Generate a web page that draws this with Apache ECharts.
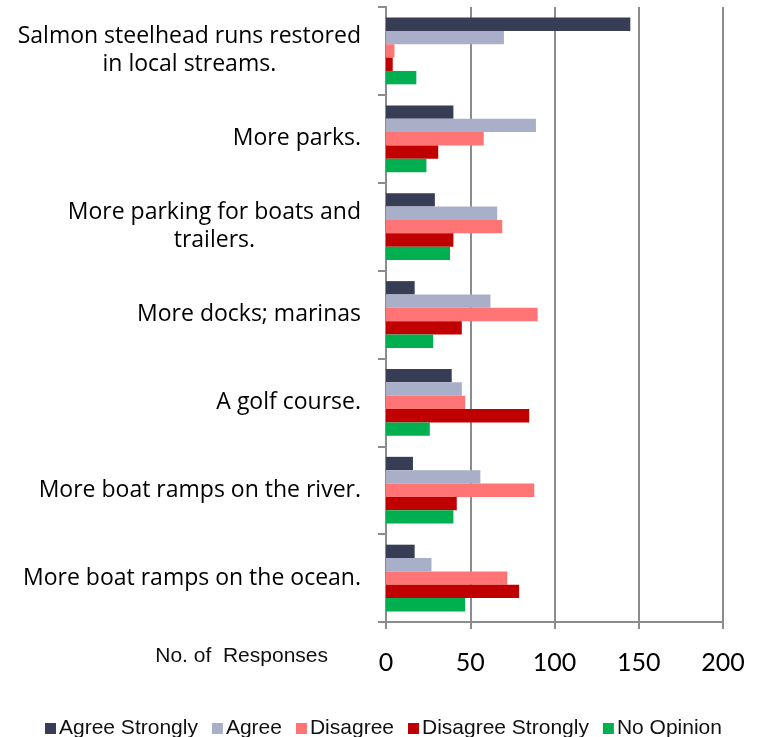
<!DOCTYPE html>
<html>
<head>
    <meta charset="utf-8">
    <title>Responses</title>
    <script src="https://cdn.jsdelivr.net/npm/echarts@6/dist/echarts.min.js"></script>
</head>
<body style="margin:0;">
<div id="main" style="width: 759px;height:737px;"></div>
<script type="text/javascript">
    // categories, top to bottom
    var categories = [
        'Salmon steelhead runs restored\nin local streams.',
        'More parks.',
        'More parking for boats and\ntrailers.',
        'More docks; marinas',
        'A golf course.',
        'More boat ramps on the river.',
        'More boat ramps on the ocean.'
    ];
    var seriesNames = ['Agree Strongly', 'Agree', 'Disagree', 'Disagree Strongly', 'No Opinion'];
    var agreeStrongly = [145, 40, 29, 17, 39, 16, 17];
    var agree = [70, 89, 66, 62, 45, 56, 27];
    var disagree = [5, 58, 69, 90, 47, 88, 72];
    var disagreeStrongly = [4, 31, 40, 45, 85, 42, 79];
    var noOpinion = [18, 24, 38, 28, 26, 40, 47];
    var xTicks = [0, 50, 100, 150, 200];

    var colors = ['#383d56', '#aaafc9', '#ff7474', '#c00000', '#00b050'];
    var allData = [agreeStrongly, agree, disagree, disagreeStrongly, noOpinion];

    var myChart = echarts.init(document.getElementById('main'));

    var series = [];
    for (var i = 0; i < seriesNames.length; i++) {
        series.push({
            name: seriesNames[i],
            type: 'bar',
            barGap: '0%',
            barCategoryGap: '24%',
            itemStyle: {color: colors[i]},
            data: allData[i]
        });
    }

    var option = {
        animation: false,
        grid: {left: 386, right: 36, top: 7, bottom: 115},
        legend: {
            data: seriesNames,
            left: 40,
            top: 713,
            icon: 'rect',
            itemWidth: 11,
            itemHeight: 11,
            itemGap: 14,
            textStyle: {fontFamily: 'Liberation Sans, Arial', fontSize: 21, color: '#111', padding: [0, 0, 0, -2]}
        },
        xAxis: {
            type: 'value',
            min: xTicks[0],
            max: xTicks[xTicks.length - 1],
            interval: 50,
            name: 'No. of  Responses',
            nameLocation: 'start',
            nameGap: 58,
            nameTextStyle: {
                fontFamily: 'Liberation Sans, Arial', fontSize: 21, color: '#111',
                verticalAlign: 'top', padding: [24, 0, 0, 0]
            },
            axisLine: {show: true, lineStyle: {color: '#8c8c8c', width: 2}},
            axisTick: {show: true, length: 7, lineStyle: {color: '#8c8c8c', width: 2}},
            axisLabel: {fontFamily: 'Lato', fontSize: 25, color: '#000', margin: 28},
            splitLine: {show: true, lineStyle: {color: '#8c8c8c', width: 2}}
        },
        yAxis: {
            type: 'category',
            inverse: true,
            data: categories,
            axisLine: {show: true, lineStyle: {color: '#8c8c8c', width: 2}},
            axisTick: {show: true, length: 8, lineStyle: {color: '#8c8c8c', width: 2}},
            axisLabel: {
                margin: 25,
                color: '#000',
                fontFamily: 'Open Sans',
                fontSize: 23,
                formatter: function (v) {
                    return v.split('\n').map(function (s) { return '{c|' + s + '}'; }).join('\n');
                },
                rich: {c: {align: 'center', fontFamily: 'Open Sans', fontSize: 23, lineHeight: 28, color: '#000'}}
            }
        },
        series: series
    };
    myChart.setOption(option);
</script>
</body>
</html>
